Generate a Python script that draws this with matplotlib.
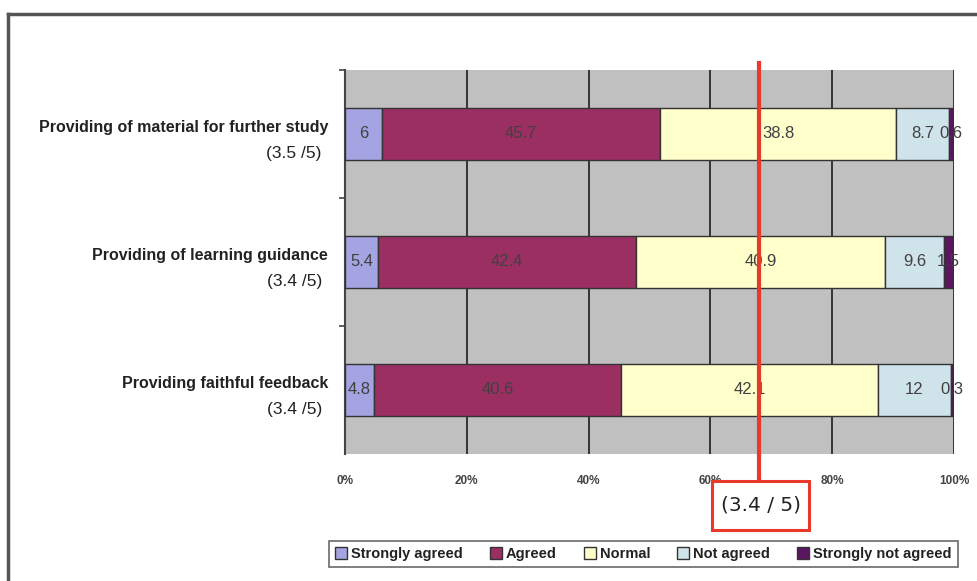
import matplotlib.pyplot as plt
from matplotlib.patches import Rectangle
from matplotlib.lines import Line2D
import matplotlib.transforms as mtransforms

plt.rcParams['font.family'] = ['Liberation Sans Narrow', 'Liberation Sans', 'DejaVu Sans']

# survey items, top to bottom
items = ['Providing of material for further study',
         'Providing of learning guidance',
         'Providing faithful feedback']
scores = ['(3.5 /5)', '(3.4 /5)', '(3.4 /5)']

responses = ['Strongly agreed', 'Agreed', 'Normal', 'Not agreed', 'Strongly not agreed']
colors = ['#a4a4e2', '#9c2f62', '#ffffcc', '#cfe3eb', '#5a1660']

strongly_agreed = [6, 5.4, 4.8]
agreed = [45.7, 42.4, 40.6]
normal = [38.8, 40.9, 42.1]
not_agreed = [8.7, 9.6, 12]
strongly_not_agreed = [0.6, 1.5, 0.3]

overall_score = 3.4
max_score = 5

series = [strongly_agreed, agreed, normal, not_agreed, strongly_not_agreed]

fig = plt.figure(figsize=(9.78, 5.81), dpi=100)
ax = fig.add_axes([345 / 978, 1 - 454 / 581, 609 / 978, 384 / 581])
ax.set_facecolor('#c0c0c0')

ypos = list(range(len(items)))[::-1]
left = [0.0] * len(items)
for vals, col, name in zip(series, colors, responses):
    ax.barh(ypos, vals, left=left, height=0.4, color=col,
            edgecolor='#333333', linewidth=1, label=name, zorder=3)
    for y, l, v in zip(ypos, left, vals):
        ax.text(l + v / 2, y, '%g' % v, ha='center', va='center',
                fontsize=12, color='#404040', zorder=4)
    left = [a + b for a, b in zip(left, vals)]

ax.set_xlim(0, 100)
ax.set_ylim(-0.5, len(items) - 0.5)
ax.set_xticks([0, 20, 40, 60, 80, 100])
ax.set_xticklabels(['0%', '20%', '40%', '60%', '80%', '100%'],
                   fontsize=8.5, fontweight='bold', color='#444444')
ax.tick_params(axis='x', length=0, pad=15)
ax.xaxis.grid(True, color='#2a2a2a', linewidth=1.3, zorder=1)
ax.set_axisbelow(True)

ax.set_yticks([0.5 + i for i in range(len(items))])
ax.set_yticklabels([])
ax.tick_params(axis='y', length=4, color='#444444', width=1.2)

for side in ['top', 'right', 'bottom']:
    ax.spines[side].set_visible(False)
ax.spines['left'].set_color('#444444')
ax.spines['left'].set_linewidth(1.5)

# item labels to the left of the bars
n = len(items)
for y, name, sc in zip(ypos, items, scores):
    ax.text(-0.028, (y + 0.5) / n + 0.016, name, transform=ax.transAxes,
            ha='right', va='center', fontsize=11.5, fontweight='bold', color='#222222')
    ax.text(-0.038, (y + 0.5) / n - 0.052, sc, transform=ax.transAxes,
            ha='right', va='center', fontsize=12.5, color='#222222')

# overall mean marker
mean_pct = overall_score / max_score * 100
trans = mtransforms.blended_transform_factory(ax.transData, ax.transAxes)
ax.add_line(Line2D([mean_pct, mean_pct], [1.018, -0.07], transform=trans,
                   color='#e8392b', linewidth=3, clip_on=False, zorder=6))
ax.add_patch(Rectangle((mean_pct - 7.7, -0.198), 15.9, 0.128, transform=trans,
                       facecolor='white', edgecolor='#e8392b', linewidth=2.2,
                       clip_on=False, zorder=6))
ax.text(mean_pct + 0.25, -0.134, '(%g / %g)' % (overall_score, max_score),
        transform=trans, ha='center', va='center', fontsize=14.5,
        family='DejaVu Sans', color='#222222', zorder=7)

# outer frame
fig.add_artist(Line2D([8 / 978, 8 / 978], [0, 1 - 14 / 581], transform=fig.transFigure,
                      color='#555555', linewidth=2.5))
fig.add_artist(Line2D([8 / 978, 1], [1 - 14 / 581, 1 - 14 / 581], transform=fig.transFigure,
                      color='#555555', linewidth=2.5))

handles = [Rectangle((0, 0), 1, 1, facecolor=c, edgecolor='#333333', linewidth=1)
           for c in colors]
leg = fig.legend(handles, responses, ncol=5, loc='center', mode='expand',
                 bbox_to_anchor=(322 / 978, 1 - 568 / 581, 643 / 978, 28 / 581),
                 fancybox=False, handlelength=0.8, handleheight=0.8,
                 handletextpad=0.3, borderpad=0.4, frameon=True,
                 prop={'size': 10.5, 'weight': 'bold'})
leg.get_frame().set_edgecolor('#444444')
leg.get_frame().set_linewidth(1.2)
for t in leg.get_texts():
    t.set_color('#222222')

fig.savefig('out.png', dpi=100)
